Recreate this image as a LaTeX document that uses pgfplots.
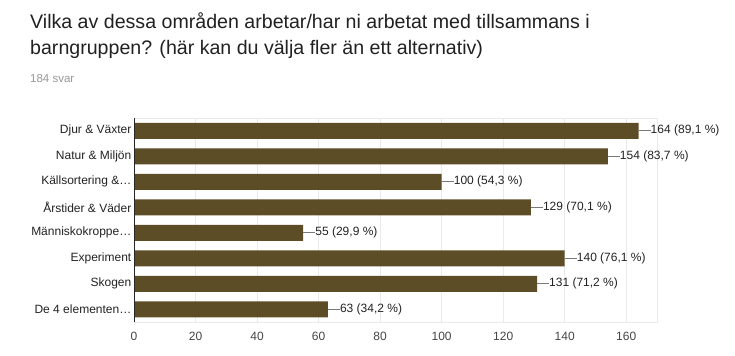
\documentclass[border=0pt]{standalone}
\usepackage{fontspec}
\setmainfont{Liberation Sans}
\usepackage{pgfplots}
\usepackage{pgfplotstable}
\pgfplotsset{compat=1.18}
\definecolor{barc}{RGB}{93,77,39}
\definecolor{gridc}{RGB}{234,234,234}
\definecolor{titlec}{RGB}{33,33,33}
\definecolor{subc}{RGB}{150,150,150}
\definecolor{labc}{RGB}{34,34,34}
\definecolor{tickc}{RGB}{68,68,68}
\definecolor{leadc}{RGB}{120,120,120}
\pgfplotstableread[col sep=semicolon]{
y;v;lab
0;164;164 (89,1 \%)
1;154;154 (83,7 \%)
2;100;100 (54,3 \%)
3;129;129 (70,1 \%)
4;55;55 (29,9 \%)
5;140;140 (76,1 \%)
6;131;131 (71,2 \%)
7;63;63 (34,2 \%)
}\datatable
\begin{document}
\begin{tikzpicture}
\useasboundingbox (0,0) rectangle (735bp,356bp);
\node[anchor=base west, inner sep=0pt, font=\fontsize{19.6bp}{24bp}\selectfont, text=titlec] at (30bp,327bp) {Vilka av dessa områden arbetar/har ni arbetat med tillsammans i};
\node[anchor=base west, inner sep=0pt, font=\fontsize{19.6bp}{24bp}\selectfont, text=titlec] at (30bp,301bp) {barngruppen? (här kan du välja fler än ett alternativ)};
\node[anchor=base west, inner sep=0pt, font=\fontsize{11.5bp}{14bp}\selectfont, text=subc] at (30bp,273bp) {184 svar};
\begin{axis}[
  at={(134bp,34bp)}, anchor=south west,
  scale only axis, width=523bp, height=204bp,
  xbar, bar width=16bp,
  xmin=0, xmax=170, ymin=-0.5, ymax=7.5,
  y dir=reverse,
  ytick={0,...,7},
  yticklabels={Djur \& Växter, Natur \& Miljön, Källsortering \&…, Årstider \& Väder, Människokroppe…, Experiment, Skogen, De 4 elementen…},
  xtick={0,20,...,160},
  xmajorgrids, grid style={gridc, line width=0.8pt},
  major tick length=0pt,
  axis line style={draw=gridc},
  xticklabel style={font=\fontsize{12bp}{14bp}\selectfont, text=tickc, yshift=-6.5bp},
  yticklabel style={font=\fontsize{12bp}{14bp}\selectfont, text=labc, inner xsep=2.5bp},
  /pgf/number format/assume math mode=true,
  point meta=explicit symbolic,
  nodes near coords={\textcolor{leadc}{\rule[2.8bp]{12bp}{0.7bp}}\pgfplotspointmeta},
  nodes near coords style={anchor=west, inner sep=0pt, font=\fontsize{12bp}{14bp}\selectfont, text=labc},
]
\addplot[draw=none, fill=barc] table[x=v, y=y, meta=lab] {\datatable};
\draw[black!85, line width=0.8pt] (rel axis cs:0,0) -- (rel axis cs:0,1);
\end{axis}
\end{tikzpicture}
\end{document}
